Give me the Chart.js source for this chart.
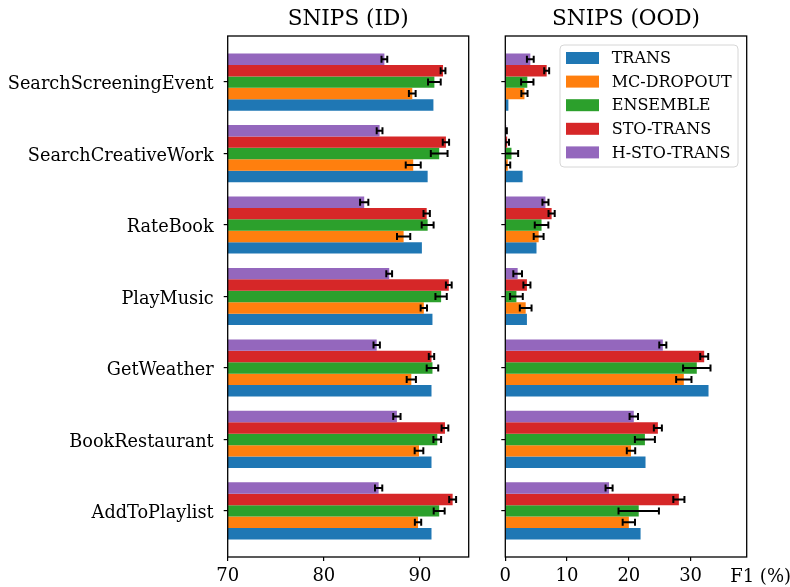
<!DOCTYPE html>
<html>
<head>
<meta charset="utf-8">
<script src="https://cdn.jsdelivr.net/npm/chart.js@4.4.1/dist/chart.umd.min.js"></script>
<style>
  body { margin: 0; background: #fff; }
  #wrap { position: relative; width: 790px; height: 587px; }
  canvas { position: absolute; left: 0; top: 0; }
</style>
</head>
<body>
<div id="wrap">
  <canvas id="idChart" width="790" height="587"></canvas>
  <canvas id="oodChart" width="790" height="587"></canvas>
</div>
<script>
// bottom to top
const categories = ["AddToPlaylist", "BookRestaurant", "GetWeather", "PlayMusic", "RateBook", "SearchCreativeWork", "SearchScreeningEvent"];
const methods = ["TRANS", "MC-DROPOUT", "ENSEMBLE", "STO-TRANS", "H-STO-TRANS"];
const colors = ["#1f77b4", "#ff7f0e", "#2ca02c", "#d62728", "#9467bd"];

// SNIPS (ID)
const idTrans = [91.2, 91.2, 91.2, 91.3, 90.2, 90.8, 91.4];
const idMc = [89.8, 89.9, 89.1, 90.4, 88.3, 89.3, 89.2];
const idMcErr = [0.33, 0.45, 0.48, 0.33, 0.69, 0.78, 0.35];
const idEns = [92.0, 91.8, 91.3, 92.2, 90.8, 92.0, 91.5];
const idEnsErr = [0.57, 0.4, 0.6, 0.59, 0.62, 0.87, 0.66];
const idSto = [93.4, 92.6, 91.2, 93.0, 90.7, 92.7, 92.4];
const idStoErr = [0.36, 0.35, 0.28, 0.3, 0.33, 0.33, 0.25];
const idHsto = [85.7, 87.6, 85.5, 86.8, 84.2, 85.8, 86.3];
const idHstoErr = [0.38, 0.38, 0.33, 0.3, 0.43, 0.3, 0.3];

// SNIPS (OOD)
const oodTrans = [21.9, 22.7, 32.9, 3.5, 5.05, 2.8, 0.5];
const oodMc = [20.0, 20.35, 28.9, 3.3, 5.4, 0.4, 3.1];
const oodMcErr = [1.0, 0.68, 1.24, 0.95, 0.8, 0.4, 0.5];
const oodEns = [21.6, 22.6, 31.0, 1.8, 5.87, 1.0, 3.56];
const oodEnsErr = [3.27, 1.62, 2.22, 1.03, 1.1, 1.08, 1.0];
const oodSto = [28.1, 24.7, 32.2, 3.5, 7.5, 0.3, 6.7];
const oodStoErr = [0.9, 0.65, 0.65, 0.57, 0.5, 0.3, 0.4];
const oodHsto = [16.8, 20.8, 25.5, 2.0, 6.5, 0.15, 4.05];
const oodHstoErr = [0.57, 0.68, 0.57, 0.7, 0.49, 0.1, 0.55];

const idTicks = [70, 80, 90];
const oodTicks = [0, 10, 20, 30];

const FONT = "DejaVu Serif";

const frame = {
  id: "frame",
  afterDraw(chart) {
    const { ctx, chartArea: a } = chart;
    ctx.save();
    ctx.strokeStyle = "#000";
    ctx.lineWidth = 1.3;
    ctx.strokeRect(a.left, a.top, a.right - a.left, a.bottom - a.top);
    ctx.restore();
  }
};

const errorBars = {
  id: "errorBars",
  afterDatasetsDraw(chart) {
    const { ctx, chartArea: a } = chart;
    const xs = chart.scales.x;
    ctx.save();
    ctx.beginPath();
    ctx.rect(a.left, a.top, a.right - a.left, a.bottom - a.top);
    ctx.clip();
    ctx.strokeStyle = "#000";
    ctx.lineWidth = 2;
    chart.data.datasets.forEach((ds, i) => {
      if (!ds.errors) return;
      chart.getDatasetMeta(i).data.forEach((bar, j) => {
        const v = ds.data[j].x, e = ds.errors[j];
        const x1 = xs.getPixelForValue(v - e);
        const x2 = xs.getPixelForValue(v + e);
        const y = bar.y;
        ctx.beginPath();
        ctx.moveTo(x1, y); ctx.lineTo(x2, y);
        ctx.moveTo(x1, y - 3.5); ctx.lineTo(x1, y + 3.5);
        ctx.moveTo(x2, y - 3.5); ctx.lineTo(x2, y + 3.5);
        ctx.stroke();
      });
    });
    ctx.restore();
  }
};

const decor = {
  id: "decor",
  afterDraw(chart, args, opts) {
    const { ctx, chartArea: a } = chart;
    ctx.save();
    ctx.fillStyle = "#000";
    ctx.textAlign = "center";
    ctx.textBaseline = "middle";
    ctx.font = "21.6px '" + FONT + "'";
    ctx.fillText(opts.title, (a.left + a.right) / 2, 19);

    if (opts.xlabel) {
      ctx.font = "18px '" + FONT + "'";
      ctx.textAlign = "left";
      ctx.fillText(opts.xlabel, a.right - 16.5, 577);
    }

    if (opts.legend) {
      const w = 178, h = 122;
      const bx = a.right - 8.7 - w, by = a.top + 9;
      ctx.beginPath();
      ctx.roundRect(bx, by, w, h, 4);
      ctx.fillStyle = "rgba(255,255,255,0.8)";
      ctx.fill();
      ctx.strokeStyle = "#d6d6d6";
      ctx.lineWidth = 1;
      ctx.stroke();
      ctx.font = "16px '" + FONT + "'";
      ctx.textAlign = "left";
      methods.forEach((m, i) => {
        const cy = by + 13 + i * 23.6;
        ctx.fillStyle = colors[i];
        ctx.fillRect(bx + 6, cy - 6, 33, 12);
        ctx.fillStyle = "#000";
        ctx.fillText(m, bx + 51.7, cy + 1);
      });
    }
    ctx.restore();
  }
};

function makeDatasets(series, errs) {
  // reverse so TRANS sits at the bottom of each group
  const out = [];
  for (let k = series.length - 1; k >= 0; k--) {
    out.push({
      label: methods[k],
      data: series[k].map((v, i) => ({ x: v, y: i })),
      errors: errs[k],
      backgroundColor: colors[k],
      borderWidth: 0,
      categoryPercentage: 0.8,
      barPercentage: 1.0
    });
  }
  return out;
}

function makeChart(canvasId, datasets, opts) {
  return new Chart(document.getElementById(canvasId), {
    type: "bar",
    data: { datasets: datasets },
    plugins: [errorBars, frame, decor],
    options: {
      indexAxis: "y",
      responsive: false,
      animation: false,
      layout: { padding: opts.padding },
      plugins: {
        legend: { display: false },
        tooltip: { enabled: false },
        decor: { title: opts.title, legend: opts.legend, xlabel: opts.xlabel }
      },
      scales: {
        y: {
          type: "linear",
          min: -0.645,
          max: 6.645,
          offset: false,
          afterBuildTicks: s => { s.ticks = categories.map((c, i) => ({ value: i })); },
          afterFit: s => { s.width = opts.yWidth; },
          grid: { offset: false, drawOnChartArea: false, drawTicks: true, tickLength: 4, color: "#000", lineWidth: 1.2 },
          border: { display: false },
          ticks: {
            autoSkip: false,
            font: { family: FONT, size: 17.7 },
            color: "#000",
            padding: 10,
            labelOffset: 2.5,
            callback: v => opts.showLabels ? categories[v] : ""
          }
        },
        x: {
          type: "linear",
          min: opts.xMin,
          max: opts.xMax,
          offset: false,
          afterBuildTicks: s => { s.ticks = opts.xTicks.map(v => ({ value: v })); },
          afterFit: s => { s.height = 30; },
          grid: { offset: false, drawOnChartArea: false, drawTicks: true, tickLength: 4, color: "#000", lineWidth: 1.2 },
          border: { display: false },
          ticks: {
            font: { family: FONT, size: 18 },
            color: "#000",
            padding: 5,
            maxRotation: 0
          }
        }
      }
    }
  });
}

makeChart("idChart",
  makeDatasets([idTrans, idMc, idEns, idSto, idHsto], [null, idMcErr, idEnsErr, idStoErr, idHstoErr]),
  { title: "SNIPS (ID)", padding: { left: 0, right: 321.3, top: 36, bottom: 0 }, yWidth: 227.7,
    showLabels: true, xMin: 70, xMax: 95.07, xTicks: idTicks, legend: false });

makeChart("oodChart",
  makeDatasets([oodTrans, oodMc, oodEns, oodSto, oodHsto], [null, oodMcErr, oodEnsErr, oodStoErr, oodHstoErr]),
  { title: "SNIPS (OOD)", padding: { left: 480, right: 43.3, top: 36, bottom: 0 }, yWidth: 25.3,
    showLabels: false, xMin: 0, xMax: 39.08, xTicks: oodTicks, legend: true, xlabel: "F1 (%)" });
</script>
</body>
</html>
